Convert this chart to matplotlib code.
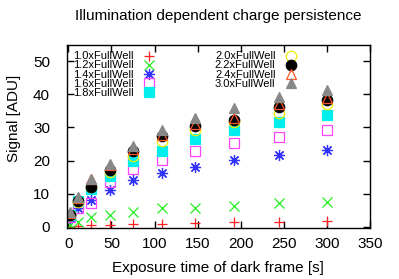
import matplotlib
matplotlib.use("Agg")
import matplotlib.pyplot as plt

plt.rcParams['font.family'] = ['Liberation Sans', 'DejaVu Sans']

# exposure times of the dark frames [s]
exposure = [1.5, 11.5, 26, 48, 75, 109, 147, 192, 244, 300]

# signal [ADU] per illumination level
sig_10 = [0.0, 0.3, 0.4, 0.5, 0.7, 0.8, 1.2, 1.4, 1.5, 1.6]
sig_12 = [0.5, 1.5, 2.8, 3.4, 4.3, 5.5, 5.7, 6.3, 7.0, 7.3]
sig_14 = [2.5, 5.5, 8.0, 11.0, 14.0, 16.3, 18.0, 20.2, 21.8, 23.2]
sig_16 = [3.0, 5.5, 7.2, 13.5, 17.3, 20.2, 23.0, 25.2, 27.2, 29.2]
sig_18 = [3.5, 7.6, 11.5, 15.3, 20.0, 23.0, 26.5, 29.3, 31.8, 33.8]
sig_20 = [3.5, 7.5, 12.0, 16.5, 21.5, 26.0, 29.3, 31.7, 34.5, 37.0]
sig_22 = [3.5, 7.7, 12.0, 17.0, 23.0, 27.3, 30.3, 32.3, 36.3, 38.3]
sig_24 = [4.0, 8.5, 14.5, 18.5, 23.5, 27.8, 31.0, 33.0, 37.0, 39.0]
sig_30 = [4.5, 9.0, 14.5, 19.0, 24.5, 29.3, 32.8, 36.0, 39.3, 41.5]

labels = ['1.0xFullWell', '1.2xFullWell', '1.4xFullWell', '1.6xFullWell',
          '1.8xFullWell', '2.0xFullWell', '2.2xFullWell', '2.4xFullWell',
          '3.0xFullWell']

fig = plt.figure(figsize=(3.99, 2.79), dpi=100)
ax = fig.add_axes([0.167, 0.182, 0.760, 0.657])

styles = [
    dict(marker='+', color='#ff2020', ms=7.5, mfc='none', mew=0.9),
    dict(marker='x', color='#22ee22', ms=6.5, mfc='none', mew=0.9),
    dict(marker=(8, 2, 0), color='#3333ff', ms=8, mfc='none', mew=0.9),
    dict(marker='s', color='#ff44ff', ms=6.5, mfc='none', mew=0.9),
    dict(marker='s', color='#00eeee', ms=6.5, mfc='#00eeee', mew=0.9),
    dict(marker='o', color='#eeee00', ms=7.5, mfc='none', mew=0.9),
    dict(marker='o', color='black', ms=7.5, mfc='black', mew=0.9),
    dict(marker='^', color='#ff5522', ms=7.5, mfc='none', mew=0.9),
    dict(marker='^', color='#888888', ms=7.5, mfc='#888888', mew=0.9),
]
series = [sig_10, sig_12, sig_14, sig_16, sig_18, sig_20, sig_22, sig_24, sig_30]

handles = []
for sig, lab, st in zip(series, labels, styles):
    h, = ax.plot(exposure, sig, linestyle='none', label=lab, **st)
    handles.append(h)

ax.set_xlim(-2, 350)
ax.set_ylim(-0.5, 55)
ax.set_xticks([0, 50, 100, 150, 200, 250, 300, 350])
ax.set_yticks([0, 10, 20, 30, 40, 50])
ax.tick_params(direction='in', top=True, right=True, length=5, width=1,
               labelsize=11)
ax.tick_params(axis='x', pad=6)
ax.tick_params(axis='y', pad=12)
for s in ax.spines.values():
    s.set_linewidth(1)

ax.set_title('Illumination dependent charge persistence', fontsize=11, pad=18)
ax.set_xlabel('Exposure time of dark frame [s]', fontsize=11)
ax.set_ylabel('Signal [ADU]', fontsize=11)
ax.xaxis.set_label_coords(0.5, -0.18)
ax.yaxis.set_label_coords(-0.15, 0.6)

leg_kw = dict(markerfirst=False, frameon=False, fontsize=8, numpoints=1,
              labelspacing=-0.08, handlelength=1.4, handleheight=0.5,
              handletextpad=0.7, borderpad=0, borderaxespad=0,
              loc='upper left')
leg1 = ax.legend(handles[:5], labels[:5], bbox_to_anchor=(0.021, 0.965), **leg_kw)
ax.add_artist(leg1)
ax.legend(handles[5:], labels[5:], bbox_to_anchor=(0.489, 0.965), **leg_kw)

fig.savefig('out.png', dpi=100)
